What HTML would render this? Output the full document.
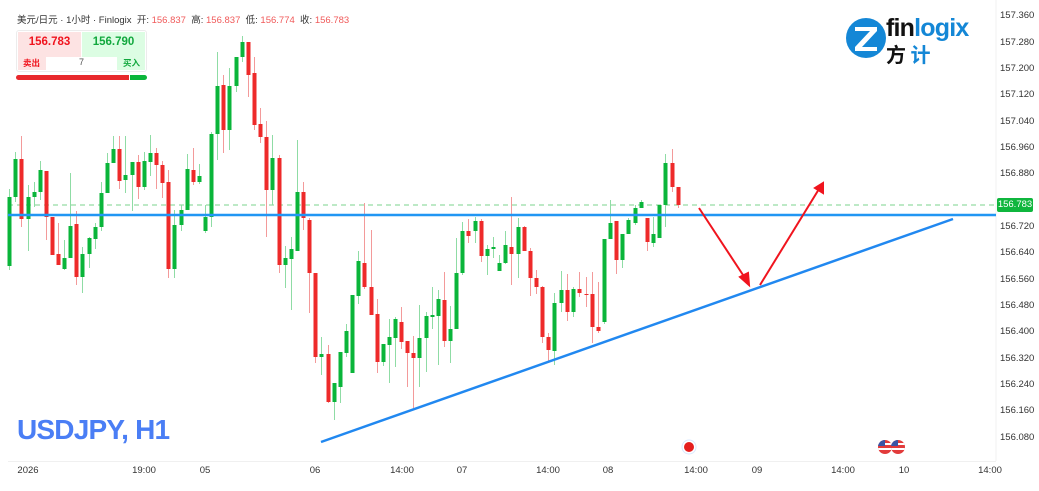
<!DOCTYPE html>
<html><head><meta charset="utf-8"><style>
html,body{margin:0;padding:0;background:#fff;}
body{width:1039px;height:491px;overflow:hidden;position:relative;font-family:"Liberation Sans","Noto Sans CJK SC",sans-serif;}
.ax{position:absolute;left:1000px;font-size:9.5px;color:#333;}
.bx{position:absolute;top:465px;font-size:9.5px;color:#333;transform:translateX(-50%);}
</style></head><body>
<svg width="1039" height="491" style="position:absolute;left:0;top:0">
<defs><clipPath id="f1"><circle cx="885" cy="447" r="7"/></clipPath><clipPath id="f2"><circle cx="898" cy="447" r="7"/></clipPath></defs>
<line x1="996" y1="0" x2="996" y2="461" stroke="#f0f0f0"/>
<line x1="8" y1="461.5" x2="996" y2="461.5" stroke="#f0f0f0"/>
<line x1="8" y1="205" x2="996" y2="205" stroke="#7bd38e" stroke-dasharray="5,4" stroke-width="1"/>
<g id="c"></g>
<line x1="8" y1="215" x2="996" y2="215" stroke="#2196f3" stroke-width="2.5"/>
<line x1="321" y1="442" x2="953" y2="219" stroke="#2188f0" stroke-width="2.5"/>
<g stroke="#f0141e" stroke-width="2" fill="#f0141e">
<line x1="699" y1="208" x2="745" y2="278"/>
<polygon points="749,285 740,277 748,273"/>
<line x1="760" y1="285" x2="819" y2="189"/>
<polygon points="823,183 823,193 815,188"/>
</g>
<circle cx="689" cy="447" r="7" fill="#fff" stroke="#d8e8ff"/>
<circle cx="689" cy="447" r="5" fill="#e41e1e"/>
<g clip-path="url(#f1)">
<rect x="878" y="440" width="14" height="14" fill="#e23b3b"/>
<rect x="878" y="443" width="14" height="2" fill="#fff"/><rect x="878" y="448" width="14" height="2" fill="#fff"/>
<rect x="878" y="440" width="7" height="6" fill="#3a55a5"/>
</g>
<g clip-path="url(#f2)">
<rect x="891" y="440" width="14" height="14" fill="#e23b3b"/>
<rect x="891" y="443" width="14" height="2" fill="#fff"/><rect x="891" y="448" width="14" height="2" fill="#fff"/>
<rect x="891" y="440" width="7" height="6" fill="#3a55a5"/>
</g>
<circle cx="866" cy="38" r="20" fill="#1487d6"/>
<polygon points="855,27 877,27 877,31 862,47 877,47 877,51 855,51 855,47 870,31 855,31" fill="#fff"/>
<rect x="997" y="198" width="36" height="14" rx="2" fill="#0fb63d"/>
</svg>
<script>
var d=[[9,197,266,189,270,1],[15,159,197,152,202,1],[21,159,219,136,227,0],[28,197,219,185,251,1],[34,192,197,182,207,1],[40,170,192,161,200,1],[46,171,217,171,240,0],[52,217,255,217,255,0],[58,254,265,223,265,0],[64,258,269,240,270,1],[70,226,258,173,258,1],[76,224,277,211,285,0],[82,254,277,247,293,1],[89,238,254,237,268,1],[95,227,239,223,249,1],[101,193,227,182,231,1],[107,163,193,153,193,1],[113,149,163,136,163,1],[119,149,181,136,189,0],[125,175,180,136,193,1],[132,162,175,162,211,1],[138,162,187,155,199,0],[144,161,187,152,190,1],[150,153,162,135,176,1],[156,153,165,148,189,0],[162,165,183,161,198,0],[168,182,269,170,278,0],[174,225,269,210,278,1],[181,210,225,205,231,1],[187,169,210,154,210,1],[193,170,182,148,185,0],[199,176,182,164,184,1],[205,217,231,205,233,1],[211,134,217,132,227,1],[217,86,134,52,160,1],[223,85,130,75,153,0],[229,86,130,68,150,1],[236,57,86,57,92,1],[242,42,57,36,62,1],[248,42,75,42,97,0],[254,73,125,57,130,0],[260,124,137,108,143,0],[266,137,190,121,237,0],[272,158,190,135,205,1],[279,158,265,155,273,0],[285,258,265,246,288,1],[291,249,259,237,310,1],[297,192,251,140,251,1],[303,192,218,182,230,0],[309,220,273,218,313,0],[315,273,357,273,363,0],[321,354,357,337,375,1],[328,354,402,345,403,0],[334,383,402,383,420,1],[340,352,387,352,403,1],[346,331,353,324,357,1],[352,295,373,295,373,1],[358,261,296,251,304,1],[364,263,287,203,289,0],[371,287,315,230,315,0],[377,314,362,299,373,0],[383,344,362,344,366,1],[389,337,345,319,383,1],[395,319,338,317,367,1],[401,322,342,307,349,0],[407,341,353,341,387,0],[413,353,358,336,408,0],[419,338,358,305,387,1],[426,316,338,312,372,1],[432,315,317,287,329,1],[438,299,316,290,365,1],[444,300,341,272,347,0],[450,329,341,306,363,1],[456,273,329,238,329,1],[462,231,273,222,275,1],[468,231,236,219,243,0],[475,221,231,217,243,1],[481,221,256,219,262,0],[487,249,256,245,275,1],[493,247,249,237,258,1],[499,263,271,255,271,1],[505,245,263,231,264,1],[511,247,254,197,285,0],[518,227,254,218,278,1],[524,227,251,226,251,0],[530,251,278,248,296,0],[536,278,287,270,294,0],[542,287,337,286,343,0],[548,337,350,333,362,0],[554,303,351,293,365,1],[561,290,303,271,312,1],[567,290,312,274,321,0],[573,289,312,287,317,1],[579,289,293,272,297,0],[586,294,295,277,307,0],[592,294,327,272,343,0],[598,327,331,282,333,0],[604,239,322,239,324,1],[610,223,239,200,239,1],[616,221,260,221,274,0],[622,234,260,234,268,1],[628,220,234,218,234,1],[635,208,223,205,225,1],[641,202,208,200,208,1],[647,218,242,218,251,0],[653,234,243,217,247,1],[659,205,238,205,238,1],[665,163,205,154,227,1],[672,163,187,149,192,0],[678,187,205,187,208,0]];
var s='';d.forEach(function(c){var col=c[5]?'#0ab53a':'#ee2a2a',wc=c[5]?'#8fdca5':'#f39a9a';
s+='<line x1="'+(c[0]+.5)+'" y1="'+c[3]+'" x2="'+(c[0]+.5)+'" y2="'+c[4]+'" stroke="'+wc+'" stroke-width="1"/>';
s+='<rect x="'+(c[0]-1.5)+'" y="'+c[1]+'" width="4" height="'+Math.max(1,c[2]-c[1])+'" fill="'+col+'"/>';});
document.getElementById('c').innerHTML=s;
</script>
<div style="position:absolute;left:17px;top:12px;font-size:9.5px;color:#333;white-space:nowrap">美元/日元 · 1小时 · Finlogix &nbsp;开: <span style="color:#f05a5a">156.837</span> &nbsp;高: <span style="color:#f05a5a">156.837</span> &nbsp;低: <span style="color:#f05a5a">156.774</span> &nbsp;收: <span style="color:#f05a5a">156.783</span></div>
<div style="position:absolute;left:16px;top:30px;width:129px;height:40px;border:1px solid #ececec;border-radius:3px;background:#fff"></div>
<div style="position:absolute;left:18px;top:32px;width:63px;height:38px;background:#fde3e3"></div>
<div style="position:absolute;left:82px;top:32px;width:63px;height:38px;background:#dcfde3"></div>
<div style="position:absolute;left:46px;top:57px;width:71px;height:13px;background:#fff"></div>
<div style="position:absolute;left:18px;top:36px;width:63px;text-align:center;font-size:11.5px;font-weight:bold;color:#f0141e">156.783</div>
<div style="position:absolute;left:82px;top:36px;width:63px;text-align:center;font-size:11.5px;font-weight:bold;color:#12a83e">156.790</div>
<div style="position:absolute;left:23px;top:57px;font-size:8.5px;font-weight:bold;color:#f0141e">卖出</div>
<div style="position:absolute;left:46px;top:57px;width:71px;text-align:center;font-size:9px;color:#555">7</div>
<div style="position:absolute;left:123px;top:57px;font-size:8.5px;font-weight:bold;color:#12a83e">买入</div>
<div style="position:absolute;left:16px;top:75px;width:113px;height:5px;background:#e8282c;border-radius:3px 0 0 3px"></div>
<div style="position:absolute;left:130px;top:75px;width:17px;height:5px;background:#0ab53a;border-radius:0 3px 3px 0"></div>
<div style="position:absolute;left:886px;top:14px;font-size:25px;font-weight:bold;letter-spacing:-0.8px;color:#111;line-height:28px">fin<span style="color:#1487d6">logix</span></div>
<div style="position:absolute;left:886px;top:42px;font-size:20px;font-weight:bold;line-height:24px;color:#111;font-family:'Noto Sans CJK SC',sans-serif">方 <span style="color:#1487d6">计</span></div>
<div style="position:absolute;left:17px;top:414px;font-size:28px;font-weight:bold;color:#4a7ef5;letter-spacing:-0.8px">USDJPY, H1</div>
<div class="ax" style="top:10px">157.360</div><div class="ax" style="top:37px">157.280</div><div class="ax" style="top:63px">157.200</div><div class="ax" style="top:89px">157.120</div><div class="ax" style="top:116px">157.040</div><div class="ax" style="top:142px">156.960</div><div class="ax" style="top:168px">156.880</div><div class="ax" style="top:221px">156.720</div><div class="ax" style="top:247px">156.640</div><div class="ax" style="top:274px">156.560</div><div class="ax" style="top:300px">156.480</div><div class="ax" style="top:326px">156.400</div><div class="ax" style="top:353px">156.320</div><div class="ax" style="top:379px">156.240</div><div class="ax" style="top:405px">156.160</div><div class="ax" style="top:432px">156.080</div>
<div style="position:absolute;left:997px;top:199px;width:36px;text-align:center;font-size:9.5px;color:#fff">156.783</div>
<div class="bx" style="left:28px">2026</div><div class="bx" style="left:144px">19:00</div><div class="bx" style="left:205px">05</div><div class="bx" style="left:315px">06</div><div class="bx" style="left:402px">14:00</div><div class="bx" style="left:462px">07</div><div class="bx" style="left:548px">14:00</div><div class="bx" style="left:608px">08</div><div class="bx" style="left:696px">14:00</div><div class="bx" style="left:757px">09</div><div class="bx" style="left:843px">14:00</div><div class="bx" style="left:904px">10</div><div class="bx" style="left:990px">14:00</div>
</body></html>
